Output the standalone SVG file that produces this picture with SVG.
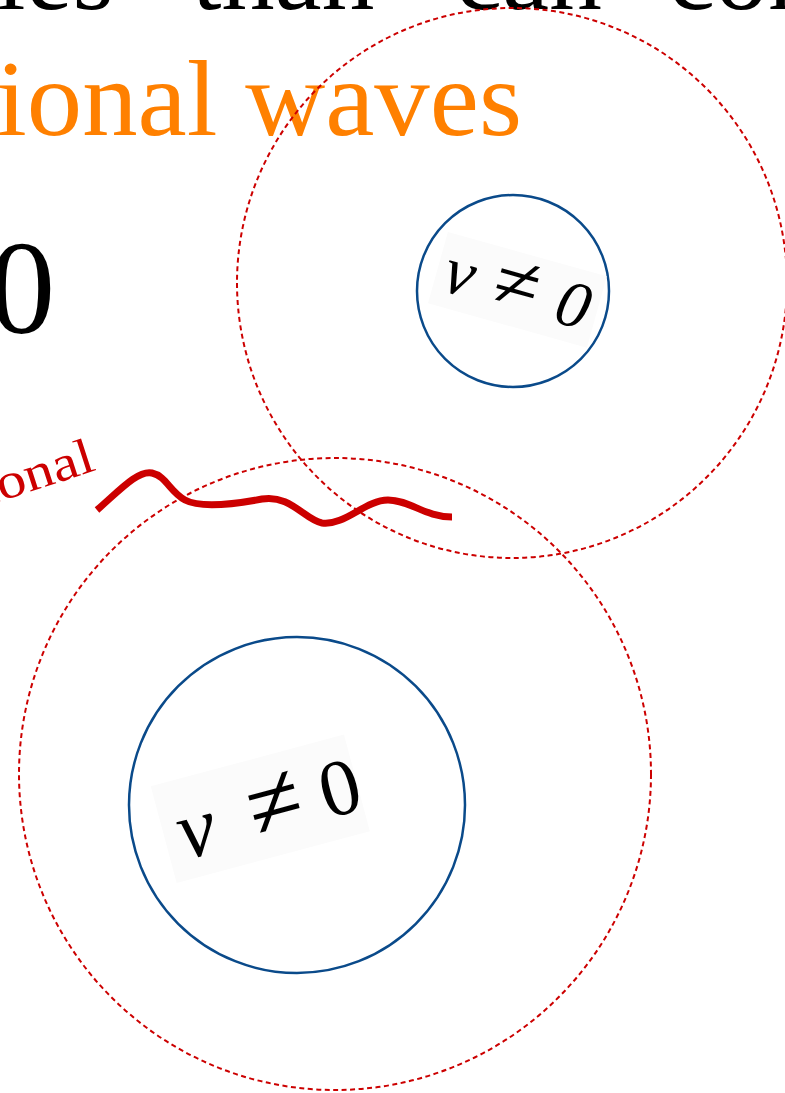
<svg xmlns="http://www.w3.org/2000/svg" width="785" height="1093" viewBox="0 0 785 1093">
<style>
.serif{font-family:"Liberation Serif","DejaVu Serif",serif}
.dash{fill:none;stroke:#cc0000;stroke-width:2;stroke-dasharray:5 3.5}
.blue{fill:none;stroke:#0a4a8a;stroke-width:2.5}
.math{font-family:"Liberation Serif","DejaVu Serif",serif;fill:#000}
.pad{fill:#fbfbfb}
</style>
<rect width="785" height="1093" fill="#fff"/>
<g id="heading" class="serif">
<text x="-4" y="9" font-size="106" fill="#000">ies</text>
<text x="192" y="9" font-size="106" fill="#000">than</text>
<text x="455" y="9" font-size="106" fill="#000">can</text>
<text x="668" y="9" font-size="106" fill="#000">con</text>
<text x="-4" y="135" font-size="108" fill="#ff8000" textLength="526" lengthAdjust="spacingAndGlyphs">ional waves</text>
<text x="22" y="333" font-size="133" fill="#000" text-anchor="middle">0</text>
</g>
<g id="label-ional">
<text class="serif" x="0" y="0" font-size="50" fill="#cc0000" textLength="117" lengthAdjust="spacingAndGlyphs" transform="translate(-14 506) rotate(-18)">ional</text>
</g>
<g id="connectors">
<path d="M97,510 C120,490 138,470 152,473 C166,476 170,492 185,500 C200,508 230,505 262,499 C290,494 305,520 322,523 C345,526 365,500 388,500 C410,500 425,517 452,517" fill="none" stroke="#cc0000" stroke-width="7"/>
</g>
<g id="node-top">
<circle class="dash" cx="512" cy="283" r="275"/>
<circle class="blue" cx="513" cy="291" r="96"/>
<g transform="translate(440 290) rotate(15.6)">
<rect class="pad" x="-8" y="-58" width="165" height="74"/>
<text class="math" x="0" y="0" font-size="68" font-style="italic">v</text>
<text class="math" x="73" y="0" font-size="82" text-anchor="middle">≠</text>
<text class="math" x="116" y="0" font-size="66" font-style="italic">0</text>
</g>
</g>
<g id="node-bottom">
<circle class="dash" cx="335" cy="774" r="316"/>
<circle class="blue" cx="297" cy="805" r="168"/>
<g transform="translate(185 860) rotate(-15)">
<rect class="pad" x="-14" y="-80" width="200" height="100"/>
<text class="math" x="0" y="0" font-size="84" font-style="italic">v</text>
<text class="math" x="101" y="0" font-size="100" text-anchor="middle">≠</text>
<text class="math" x="148" y="-3" font-size="80">0</text>
</g>
</g>
</svg>
